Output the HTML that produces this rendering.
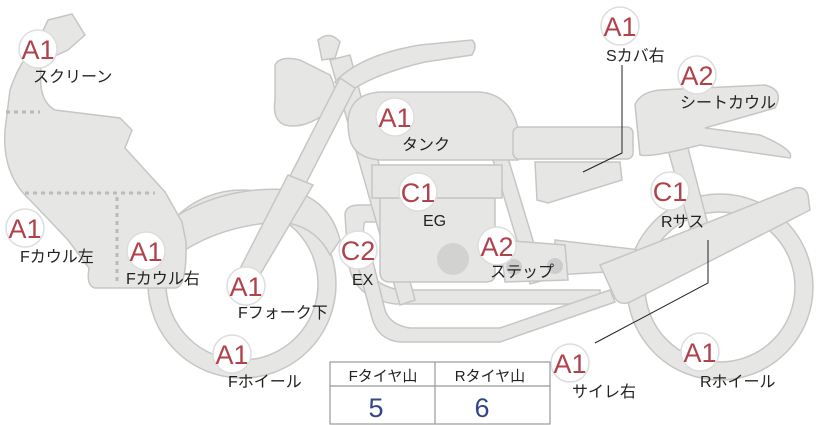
<!DOCTYPE html>
<html><head><meta charset="utf-8"><style>
body{margin:0;background:#fff;}
svg{display:block;font-family:"Liberation Sans","Noto Sans CJK JP",sans-serif;}
.p{fill:#e6e6e4;stroke:#c6c6c4;stroke-width:1.5;}
.l{font-size:16px;fill:#222;}
.b circle{fill:#fff;stroke:#ddd;stroke-width:1.5;}
.b text{font-size:27px;fill:#b0424c;text-anchor:middle;}
</style></head><body>
<svg width="822" height="425" viewBox="0 0 822 425">
<circle cx="242" cy="284" r="94" class="p"/>
<circle cx="242" cy="284" r="76" fill="#fff" stroke="#c6c6c4" stroke-width="1.5"/>
<circle cx="720" cy="287" r="93" class="p"/>
<circle cx="720" cy="287" r="75" fill="#fff" stroke="#c6c6c4" stroke-width="1.5"/>
<path class="p" d="M178,215 Q230,185 290,190 Q330,200 340,240 L330,255 Q315,225 280,222 Q225,225 185,250 Z"/>
<path class="p" d="M345,215 Q345,205 360,205 L410,205 L410,222 L365,222 Q362,225 365,260 Q370,285 400,290 L600,290 L600,304 L395,304 Q352,298 348,260 Z"/>
<path class="p" d="M370,250 L385,310 Q390,325 410,328 L500,328 L610,290 L615,302 L500,342 L400,342 Q378,340 372,318 L355,255 Z"/>
<path class="p" d="M330,60 L350,55 L415,300 L400,305 Z"/>
<path class="p" d="M490,150 L505,148 L545,280 L530,284 Z"/>
<path class="p" d="M555,240 L640,250 L640,270 L555,275 Z"/>
<path class="p" d="M668,150 L688,148 L712,240 L695,245 Z"/>
<path class="p" d="M380,198 L495,198 L495,275 Q495,282 485,282 L390,282 Q380,282 380,272 Z"/>
<rect class="p" x="372" y="165" width="130" height="33"/>
<circle cx="453" cy="259" r="16" fill="#d2d2d0"/>
<path class="p" d="M500,240 L565,245 L568,280 L505,282 Z"/>
<circle cx="514" cy="267" r="8" fill="#ccc"/><circle cx="555" cy="266" r="8" fill="#ccc"/>
<path class="p" d="M350,140 Q340,95 380,92 L480,92 Q515,95 520,140 L518,160 L380,160 Q355,158 350,140 Z"/>
<rect class="p" x="513" y="127" width="120" height="32" rx="6"/>
<path class="p" d="M535,162 L620,162 L622,180 L548,203 L537,200 Z"/>
<path class="p" d="M635,105 Q640,92 660,90 L765,85 Q785,90 775,108 L705,128 L760,135 Q795,150 790,158 L700,145 Q650,158 640,155 Z"/>
<path class="p" d="M335,82 Q360,55 420,45 L472,40 Q478,45 472,55 L425,62 Q370,75 345,95 Z"/>
<path class="p" d="M318,40 Q330,30 340,42 L335,58 L322,60 Z"/>
<path class="p" d="M275,65 Q280,55 300,60 L330,75 Q340,95 330,110 Q305,130 285,125 Q272,120 275,100 Z"/>
<path class="p" d="M340,78 L355,88 L250,292 L236,282 Z"/>
<path class="p" d="M288,175 L313,185 L245,300 L230,288 Z"/>
<path class="p" d="M600,265 L795,188 Q805,186 808,195 L810,210 L630,302 Q620,306 615,298 Z"/>
<path class="p" d="M48,20 L72,14 L85,35 L68,50 L42,62 Q36,100 55,110 L120,118 L132,130 L125,148 L165,192 L182,222 L186,242 Q187,288 175,288 L95,288 Q86,286 89,268 L68,240 L30,200 Q2,175 5,130 L10,90 Q20,60 35,48 Z"/>
<g stroke="#bbb" stroke-width="3" stroke-dasharray="4,4" fill="none">
<line x1="6" y1="112" x2="40" y2="112"/>
<line x1="25" y1="193" x2="155" y2="193"/>
<line x1="117" y1="197" x2="117" y2="285"/>
</g>
<path d="M622,65 L622,153 L583,172" fill="none" stroke="#222" stroke-width="1"/>
<path d="M708,240 L708,283 L595,343" fill="none" stroke="#222" stroke-width="1"/>
<g class="b">
<circle cx="38" cy="49" r="19"/><text x="38" y="59">A1</text>
<circle cx="25" cy="228" r="19"/><text x="25" y="238">A1</text>
<circle cx="146" cy="251" r="19"/><text x="146" y="261">A1</text>
<circle cx="246" cy="286" r="19"/><text x="246" y="296">A1</text>
<circle cx="232" cy="354" r="19"/><text x="232" y="364">A1</text>
<circle cx="358" cy="250" r="19"/><text x="358" y="260">C2</text>
<circle cx="395" cy="117" r="19"/><text x="395" y="127">A1</text>
<circle cx="418" cy="192" r="19"/><text x="418" y="202">C1</text>
<circle cx="497" cy="246" r="19"/><text x="497" y="256">A2</text>
<circle cx="620" cy="26" r="19"/><text x="620" y="36">A1</text>
<circle cx="697" cy="75" r="19"/><text x="697" y="85">A2</text>
<circle cx="670" cy="191" r="19"/><text x="670" y="201">C1</text>
<circle cx="570" cy="363" r="19"/><text x="570" y="373">A1</text>
<circle cx="700" cy="352" r="19"/><text x="700" y="362">A1</text>
</g>
<g class="l">
<text x="33" y="82">スクリーン</text>
<text x="20" y="262">Fカウル左</text>
<text x="126" y="284">Fカウル右</text>
<text x="238" y="318">Fフォーク下</text>
<text x="228" y="387">Fホイール</text>
<text x="352" y="285">EX</text>
<text x="402" y="150">タンク</text>
<text x="423" y="226">EG</text>
<text x="490" y="277">ステップ</text>
<text x="606" y="61">Sカバ右</text>
<text x="680" y="108">シートカウル</text>
<text x="661" y="227">Rサス</text>
<text x="572" y="397">サイレ右</text>
<text x="700" y="387">Rホイール</text>
</g>
<rect x="330" y="362" width="220" height="62" fill="#fff" stroke="#999" stroke-width="1.2"/>
<line x1="330" y1="386" x2="550" y2="386" stroke="#999" stroke-width="1.2"/>
<line x1="435" y1="362" x2="435" y2="424" stroke="#999" stroke-width="1.2"/>
<text x="383" y="381" font-size="15" fill="#222" text-anchor="middle">Fタイヤ山</text>
<text x="490" y="381" font-size="15" fill="#222" text-anchor="middle">Rタイヤ山</text>
<text x="376" y="417" font-size="27" fill="#34448a" text-anchor="middle">5</text>
<text x="482" y="417" font-size="27" fill="#34448a" text-anchor="middle">6</text>
</svg>
</body></html>
